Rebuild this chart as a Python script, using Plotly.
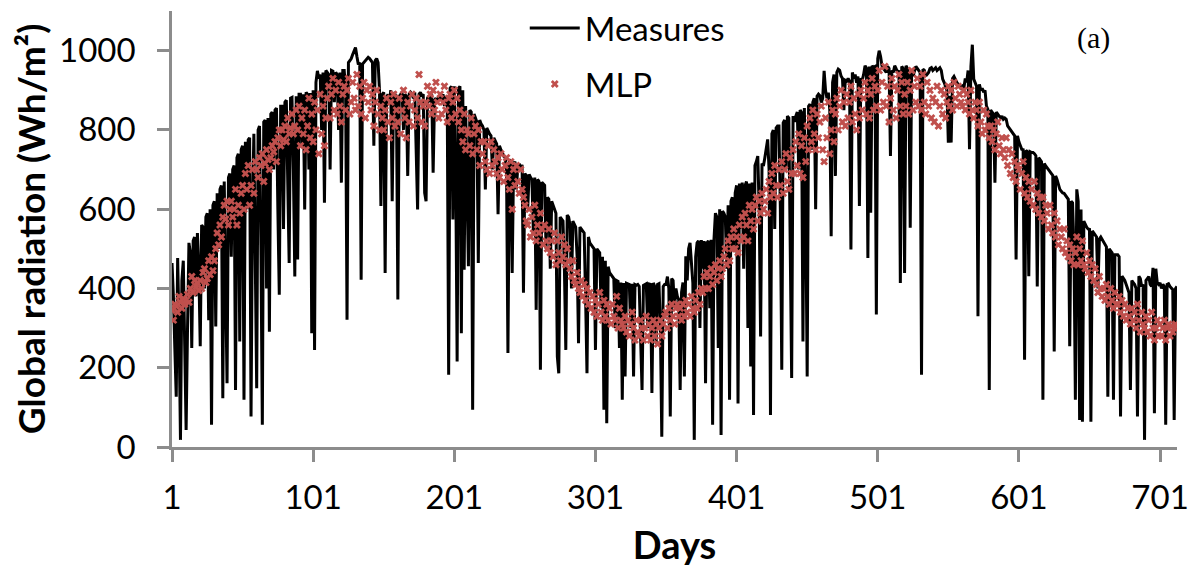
import plotly.graph_objects as go

# ---------------- data ----------------
measures_rows = [
    [464, 380, 250, 127, 477, 300, 18, 420, 470, 200],
    [43, 300, 515, 490, 250, 520, 530, 380, 540, 450],
    [254, 560, 555, 400, 580, 590, 320, 600, 56, 610],
    [620, 304, 640, 500, 650, 660, 123, 670, 420, 161],
    [680, 690, 480, 700, 710, 144, 730, 740, 266, 750],
    [760, 119, 770, 600, 775, 780, 77, 600, 790, 450],
    [148, 800, 810, 500, 56, 820, 825, 400, 830, 291],
    [840, 845, 700, 850, 855, 600, 384, 860, 860, 550],
    [870, 875, 650, 464, 880, 882, 700, 430, 885, 473],
    [890, 890, 760, 890, 599, 895, 890, 700, 893, 287],
    [900, 245, 920, 949, 930, 940, 800, 945, 616, 950],
    [945, 940, 700, 950, 948, 870, 945, 940, 800, 945],
    [667, 950, 950, 900, 321, 970, 975, 980, 990, 1000],
    [1008, 985, 965, 970, 422, 966, 970, 975, 980, 983],
    [980, 975, 970, 760, 975, 980, 970, 900, 608, 890],
    [895, 439, 880, 890, 870, 900, 620, 895, 890, 880],
    [372, 885, 890, 895, 800, 890, 885, 684, 890, 895],
    [890, 880, 895, 760, 599, 890, 895, 885, 890, 641],
    [620, 880, 885, 870, 890, 692, 875, 880, 870, 885],
    [880, 875, 890, 860, 885, 870, 182, 905, 910, 574],
    [910, 700, 216, 905, 910, 287, 900, 447, 860, 700],
    [456, 850, 845, 94, 840, 830, 820, 464, 825, 815],
    [810, 800, 650, 805, 795, 790, 785, 700, 780, 770],
    [765, 587, 760, 750, 740, 735, 730, 700, 237, 725],
    [720, 439, 715, 720, 650, 710, 715, 700, 712, 389],
    [690, 685, 600, 688, 680, 675, 540, 680, 346, 675],
    [670, 195, 668, 665, 660, 500, 630, 625, 450, 620],
    [610, 600, 590, 228, 186, 580, 575, 570, 450, 245],
    [585, 580, 560, 400, 570, 560, 555, 480, 262, 555],
    [550, 545, 540, 380, 186, 530, 515, 510, 505, 500],
    [245, 500, 495, 490, 350, 480, 94, 470, 60, 455],
    [440, 435, 431, 425, 300, 420, 418, 250, 415, 119],
    [414, 178, 413, 412, 410, 300, 412, 178, 410, 408],
    [410, 405, 250, 144, 408, 410, 412, 300, 411, 410],
    [136, 414, 405, 260, 410, 412, 300, 26, 405, 410],
    [410, 430, 400, 77, 425, 420, 350, 400, 380, 372],
    [144, 390, 415, 178, 481, 420, 500, 515, 450, 414],
    [18, 480, 515, 520, 300, 522, 450, 520, 161, 515],
    [520, 350, 523, 56, 525, 590, 580, 250, 600, 30],
    [595, 590, 580, 450, 610, 119, 620, 630, 500, 641],
    [660, 110, 665, 550, 667, 450, 660, 670, 300, 665],
    [203, 667, 81, 710, 720, 734, 600, 279, 715, 709],
    [730, 750, 776, 700, 81, 790, 800, 550, 805, 810],
    [810, 600, 195, 818, 825, 700, 835, 830, 500, 174],
    [835, 820, 835, 845, 700, 850, 844, 266, 855, 600],
    [178, 860, 865, 750, 870, 880, 600, 885, 890, 886],
    [869, 880, 949, 900, 880, 894, 850, 532, 920, 940],
    [684, 945, 953, 950, 936, 930, 850, 925, 923, 930],
    [923, 498, 945, 930, 940, 919, 935, 608, 930, 925],
    [940, 962, 955, 477, 960, 591, 962, 958, 960, 334],
    [980, 1000, 985, 962, 955, 950, 945, 960, 955, 734],
    [950, 945, 962, 955, 945, 950, 414, 960, 955, 439],
    [962, 955, 940, 553, 945, 936, 950, 960, 955, 950],
    [945, 182, 953, 950, 936, 940, 945, 955, 957, 950],
    [955, 957, 950, 955, 957, 950, 928, 920, 910, 900],
    [768, 886, 768, 930, 935, 925, 920, 915, 910, 905],
    [910, 905, 930, 920, 950, 751, 960, 1015, 928, 920],
    [910, 330, 915, 900, 905, 895, 900, 860, 852, 144],
    [850, 845, 840, 667, 845, 840, 835, 830, 835, 827],
    [830, 827, 810, 805, 800, 795, 790, 785, 473, 785],
    [770, 760, 751, 750, 220, 748, 745, 431, 745, 743],
    [743, 740, 735, 405, 730, 725, 720, 119, 715, 709],
    [705, 700, 695, 690, 685, 241, 684, 675, 660, 650],
    [645, 641, 640, 635, 630, 625, 254, 620, 616, 500],
    [119, 650, 620, 68, 599, 64, 570, 560, 555, 550],
    [549, 64, 545, 540, 535, 530, 400, 525, 530, 523],
    [520, 510, 505, 127, 500, 495, 490, 119, 485, 485],
    [485, 480, 77, 431, 425, 420, 410, 400, 389, 144],
    [420, 415, 410, 400, 77, 431, 425, 405, 410, 18],
    [420, 425, 430, 410, 405, 452, 85, 450, 414, 410],
    [414, 400, 410, 405, 56, 410, 412, 405, 400, 397],
    [68, 400, 405],
]

mlp_rows = [
    [345, 320, 360, 355, 340, 380, 365, 350, 375, 360],
    [370, 385, 365, 400, 430, 390, 420, 405, 415, 395],
    [420, 400, 440, 450, 415, 425, 470, 435, 480, 445],
    [470, 500, 540, 510, 560, 530, 580, 610, 575, 620],
    [560, 600, 620, 580, 600, 650, 560, 610, 590, 640],
    [660, 600, 690, 650, 710, 610, 660, 700, 640, 720],
    [700, 680, 730, 710, 740, 670, 715, 750, 725, 700],
    [730, 760, 745, 770, 720, 780, 800, 760, 800, 775],
    [810, 770, 830, 790, 805, 840, 790, 810, 850, 800],
    [860, 760, 830, 790, 850, 750, 810, 880, 780, 840],
    [770, 870, 800, 850, 740, 890, 790, 860, 760, 830],
    [880, 910, 830, 890, 930, 850, 900, 840, 920, 860],
    [820, 890, 910, 850, 900, 930, 840, 870, 920, 880],
    [850, 940, 860, 910, 840, 880, 920, 830, 900, 870],
    [910, 850, 890, 810, 870, 900, 840, 800, 860, 830],
    [800, 850, 880, 820, 780, 870, 830, 890, 810, 850],
    [820, 880, 790, 850, 900, 830, 780, 870, 820, 860],
    [890, 810, 850, 880, 830, 940, 870, 820, 860, 810],
    [870, 910, 860, 890, 840, 900, 850, 920, 870, 830],
    [890, 840, 870, 910, 850, 820, 880, 890, 830, 870],
    [900, 840, 880, 820, 850, 800, 770, 840, 750, 800],
    [790, 760, 830, 740, 790, 810, 750, 800, 710, 770],
    [740, 770, 720, 700, 760, 690, 770, 710, 750, 720],
    [690, 730, 680, 740, 700, 670, 710, 730, 680, 650],
    [720, 600, 700, 660, 710, 670, 640, 700, 650, 630],
    [610, 570, 560, 600, 530, 580, 540, 610, 520, 560],
    [540, 590, 550, 510, 560, 520, 500, 550, 490, 520],
    [480, 540, 460, 520, 490, 470, 530, 480, 510, 460],
    [500, 470, 450, 430, 470, 420, 410, 440, 400, 390],
    [420, 380, 410, 370, 400, 360, 390, 350, 380, 340],
    [370, 330, 360, 390, 340, 320, 370, 330, 360, 320],
    [350, 310, 360, 330, 320, 380, 300, 350, 320, 310],
    [300, 330, 290, 320, 280, 310, 340, 300, 270, 320],
    [290, 280, 320, 300, 270, 300, 330, 280, 310, 270],
    [300, 320, 280, 310, 260, 300, 320, 280, 310, 330],
    [340, 300, 350, 320, 360, 330, 310, 350, 360, 330],
    [350, 320, 360, 330, 370, 340, 360, 330, 380, 350],
    [340, 370, 350, 390, 360, 400, 390, 430, 400, 440],
    [400, 430, 450, 410, 440, 460, 420, 450, 470, 430],
    [450, 480, 500, 460, 520, 470, 530, 500, 550, 500],
    [530, 490, 560, 520, 580, 530, 590, 560, 520, 610],
    [570, 600, 550, 610, 630, 570, 620, 590, 640, 600],
    [620, 650, 590, 670, 630, 690, 640, 710, 660, 630],
    [700, 660, 720, 640, 700, 740, 670, 650, 730, 690],
    [750, 690, 770, 710, 790, 690, 760, 680, 780, 720],
    [810, 750, 830, 770, 850, 790, 750, 840, 780, 820],
    [860, 750, 720, 830, 780, 870, 740, 800, 850, 770],
    [840, 880, 800, 860, 900, 820, 870, 810, 890, 830],
    [870, 910, 820, 880, 840, 800, 890, 830, 900, 850],
    [880, 920, 840, 900, 830, 890, 930, 850, 910, 860],
    [900, 950, 850, 920, 870, 960, 860, 910, 820, 880],
    [930, 850, 910, 830, 900, 940, 860, 920, 840, 890],
    [860, 920, 840, 900, 950, 850, 910, 870, 930, 860],
    [910, 850, 940, 870, 840, 920, 860, 900, 830, 880],
    [820, 870, 910, 810, 860, 900, 840, 890, 830, 870],
    [910, 860, 900, 850, 920, 880, 860, 910, 890, 870],
    [860, 900, 850, 890, 870, 840, 900, 850, 830, 870],
    [850, 810, 870, 820, 790, 850, 800, 840, 810, 780],
    [810, 770, 800, 750, 790, 820, 760, 740, 780, 750],
    [730, 780, 710, 750, 690, 740, 680, 720, 670, 710],
    [700, 650, 690, 720, 640, 680, 630, 670, 620, 650],
    [610, 670, 600, 640, 590, 630, 580, 630, 570, 610],
    [590, 550, 610, 560, 540, 590, 530, 570, 510, 550],
    [530, 500, 550, 490, 520, 480, 510, 470, 500, 460],
    [490, 530, 460, 500, 470, 520, 460, 450, 490, 440],
    [470, 430, 460, 420, 450, 410, 390, 430, 400, 380],
    [400, 370, 410, 380, 360, 400, 370, 350, 390, 360],
    [360, 380, 340, 370, 330, 360, 320, 350, 330, 310],
    [350, 320, 340, 300, 360, 320, 290, 340, 310, 300],
    [330, 290, 320, 280, 340, 300, 270, 300, 320, 280],
    [310, 280, 300, 320, 270, 300, 310, 280, 305, 290],
    [300, 310, 305],
]

measures = [v for row in measures_rows for v in row]
mlp = [v for row in mlp_rows for v in row]
days = list(range(1, len(measures) + 1))

x_tick_vals = [1, 101, 201, 301, 401, 501, 601, 701]
x_tick_text = ["1", "101", "201", "301", "401", "501", "601", "701"]
y_tick_vals = [0, 200, 400, 600, 800, 1000]

# ---------------- figure ----------------
FONT = "Lato, 'Open Sans', sans-serif"
AXIS_GRAY = "#8c8c8c"

fig = go.Figure()
fig.add_trace(go.Scatter(
    x=days, y=measures, mode="lines", name="Measures",
    line=dict(color="black", width=3), legendgroup="a",
))
fig.add_trace(go.Scatter(
    x=days, y=mlp, mode="markers", name="MLP",
    marker=dict(symbol="x", size=7, color="#C0504D", line=dict(width=0)),
    legendgroup="b",
))

# the page body adds an 8 px offset, so the figure is 8 px smaller
fig.update_layout(
    width=1190, height=559,
    margin=dict(l=164, r=21, t=3, b=120, autoexpand=False),
    paper_bgcolor="white", plot_bgcolor="white",
    font=dict(family=FONT, size=33, color="black"),
    showlegend=True,
    legend=dict(
        x=0.351, y=1.025, xanchor="left", yanchor="top",
        bgcolor="rgba(0,0,0,0)", font=dict(size=33, family=FONT),
        itemwidth=50, tracegroupgap=10,
    ),
    annotations=[dict(
        text="(a)", xref="paper", yref="paper",
        x=(1093 - 172) / 1005, y=(447 - 38) / 436,
        xanchor="center", yanchor="middle", showarrow=False,
        font=dict(family="'Liberation Serif', 'Times New Roman', serif", size=30, color="black"),
    )],
)

fig.update_xaxes(
    range=[1, 713], tickmode="array", tickvals=x_tick_vals, ticktext=x_tick_text,
    automargin=False,
    showgrid=False, zeroline=False, showline=True, linecolor=AXIS_GRAY, linewidth=2.5,
    ticks="outside", ticklen=12, tickwidth=2.5, tickcolor=AXIS_GRAY,
    ticklabelstandoff=8,
    tickfont=dict(size=33, family=FONT),
    title=dict(text="<b>Days</b>", font=dict(size=38, family=FONT), standoff=24),
)
fig.update_yaxes(
    range=[0, 1100], tickmode="array", tickvals=y_tick_vals,
    automargin=False,
    showgrid=False, zeroline=False, showline=True, linecolor=AXIS_GRAY, linewidth=2.5,
    ticks="outside", ticklen=12, tickwidth=2.5, tickcolor=AXIS_GRAY,
    ticklabelstandoff=15,
    tickfont=dict(size=33, family=FONT),
    title=dict(text="<b>Global radiation (Wh/m²)</b>", font=dict(size=37, family=FONT), standoff=14),
)

fig.write_html("out.html")
